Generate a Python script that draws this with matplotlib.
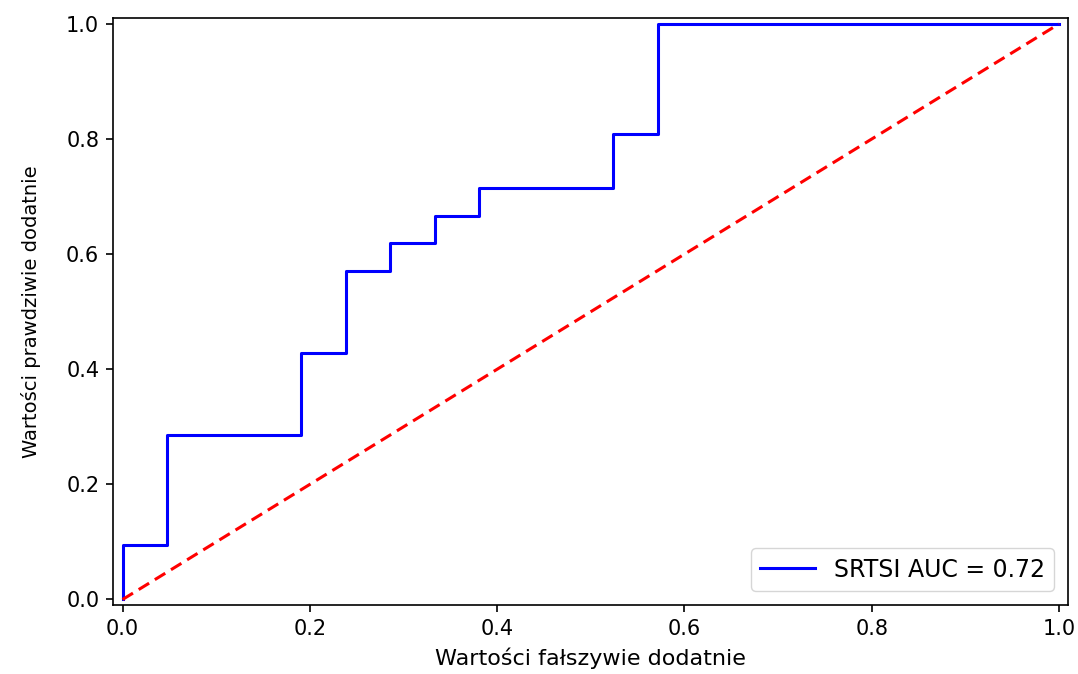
import matplotlib
matplotlib.use("Agg")
import matplotlib.pyplot as plt

fpr = [0.0, 0.0, 0.0476, 0.0476, 0.1905, 0.1905, 0.2381, 0.2381, 0.2857, 0.2857,
       0.3333, 0.3333, 0.3810, 0.3810, 0.5238, 0.5238, 0.5714, 0.5714, 1.0]
tpr = [0.0, 0.0952, 0.0952, 0.2857, 0.2857, 0.4286, 0.4286, 0.5714, 0.5714, 0.6190,
       0.6190, 0.6667, 0.6667, 0.7143, 0.7143, 0.8095, 0.8095, 1.0, 1.0]
auc_label = "SRTSI AUC = 0.72"
diag = [0.0, 1.0]

plt.rcParams['font.family'] = ['DejaVu Sans']
plt.rcParams['font.size'] = 14

fig = plt.figure(figsize=(10.78, 6.74), dpi=100)
ax = fig.add_axes([0.105, 0.102, 0.886, 0.871])
ax.plot(fpr, tpr, color='blue', lw=2.2, label=auc_label)
ax.plot(diag, diag, color='red', lw=2.2, linestyle='--', dashes=(4, 2.2))
ax.set_xlim(-0.01, 1.01)
ax.set_ylim(-0.01, 1.01)
ax.set_xlabel("Wartości fałszywie dodatnie", fontsize=16, labelpad=6)
ax.set_ylabel("Wartości prawdziwie dodatnie", fontsize=14, labelpad=18)
ax.tick_params(labelsize=15, length=5, width=1.2, pad=5)
for s in ax.spines.values():
    s.set_linewidth(1.2)
ax.legend(loc='lower right', fontsize=17, handlelength=2.3, borderaxespad=0.6)
fig.savefig("out.png", dpi=100)
